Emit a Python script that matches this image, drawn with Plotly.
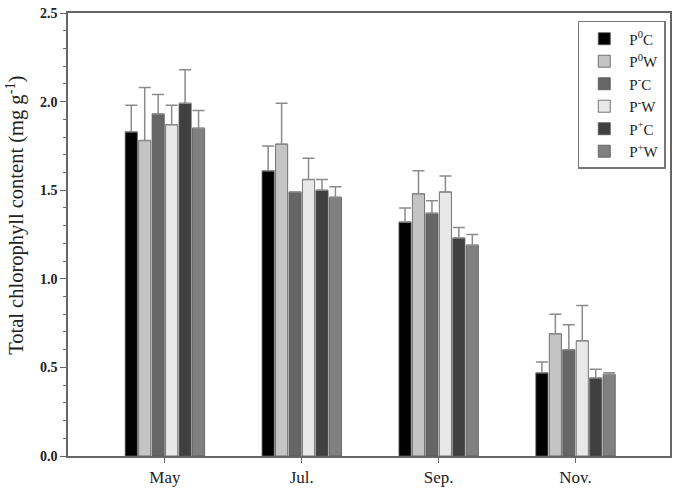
import plotly.graph_objects as go

months = ["May", "Jul.", "Sep.", "Nov."]
series_names = ["P<sup>0</sup>C", "P<sup>0</sup>W", "P<sup>-</sup>C", "P<sup>-</sup>W", "P<sup>+</sup>C", "P<sup>+</sup>W"]

p0c = [1.83, 1.61, 1.32, 0.47]
p0w = [1.78, 1.76, 1.48, 0.69]
pmc = [1.93, 1.49, 1.37, 0.60]
pmw = [1.87, 1.56, 1.49, 0.65]
ppc = [1.99, 1.50, 1.23, 0.44]
ppw = [1.85, 1.46, 1.19, 0.46]

p0c_err = [0.15, 0.14, 0.08, 0.06]
p0w_err = [0.30, 0.23, 0.13, 0.11]
pmc_err = [0.11, 0.00, 0.07, 0.14]
pmw_err = [0.11, 0.12, 0.09, 0.20]
ppc_err = [0.19, 0.06, 0.06, 0.05]
ppw_err = [0.10, 0.06, 0.06, 0.01]

values = [p0c, p0w, pmc, pmw, ppc, ppw]
errors = [p0c_err, p0w_err, pmc_err, pmw_err, ppc_err, ppw_err]
colors = ["#000000", "#c4c4c4", "#666666", "#e8e8e8", "#404040", "#808080"]

fig = go.Figure()
for name, vals, errs, col in zip(series_names, values, errors, colors):
    fig.add_trace(go.Bar(
        x=months, y=vals, name=name,
        marker=dict(color=col, line=dict(color="#555555", width=0.8)),
        error_y=dict(type="data", symmetric=False, array=errs,
                     arrayminus=[0] * len(errs), color="#8a8a8a",
                     thickness=1.5, width=6),
    ))

font_family = "Liberation Serif, Times New Roman, serif"
fig.update_layout(
    width=677, height=492,
    margin=dict(l=68, r=5, t=13, b=33),
    paper_bgcolor="white", plot_bgcolor="white",
    barmode="group", bargap=0.41, bargroupgap=0.1,
    font=dict(family=font_family, color="#222222"),
    showlegend=True,
    legend=dict(x=0.993, y=0.982, xanchor="right", yanchor="top",
                bordercolor="#777777", borderwidth=1.5, bgcolor="white",
                font=dict(size=15, family=font_family, color="#222222"),
                itemwidth=40),
    xaxis=dict(
        range=[-0.708, 3.69], showgrid=False,
        showline=True, linecolor="#666666", linewidth=1.5, mirror=True,
        ticks="outside", ticklen=5, tickcolor="#666666",
        tickfont=dict(size=17, family=font_family, color="#222222"),
    ),
    yaxis=dict(
        range=[0, 2.5], dtick=0.5, tickformat=".1f", showgrid=False,
        zeroline=False,
        showline=True, linecolor="#666666", linewidth=1.5, mirror=True,
        ticks="outside", ticklen=6, tickcolor="#666666",
        minor=dict(ticks="outside", dtick=0.1, ticklen=3, tickcolor="#666666"),
        tickfont=dict(size=14, family=font_family, color="#222222", weight="bold"),
    ),
    annotations=[dict(
        text="Total chlorophyll content (mg g<sup>-1</sup>)",
        xref="paper", yref="paper", x=-0.0877, y=0.5426,
        xanchor="center", yanchor="middle", textangle=-90, showarrow=False,
        font=dict(size=20.5, family=font_family, color="#222222"),
    )],
)

fig.write_html("out.html")
